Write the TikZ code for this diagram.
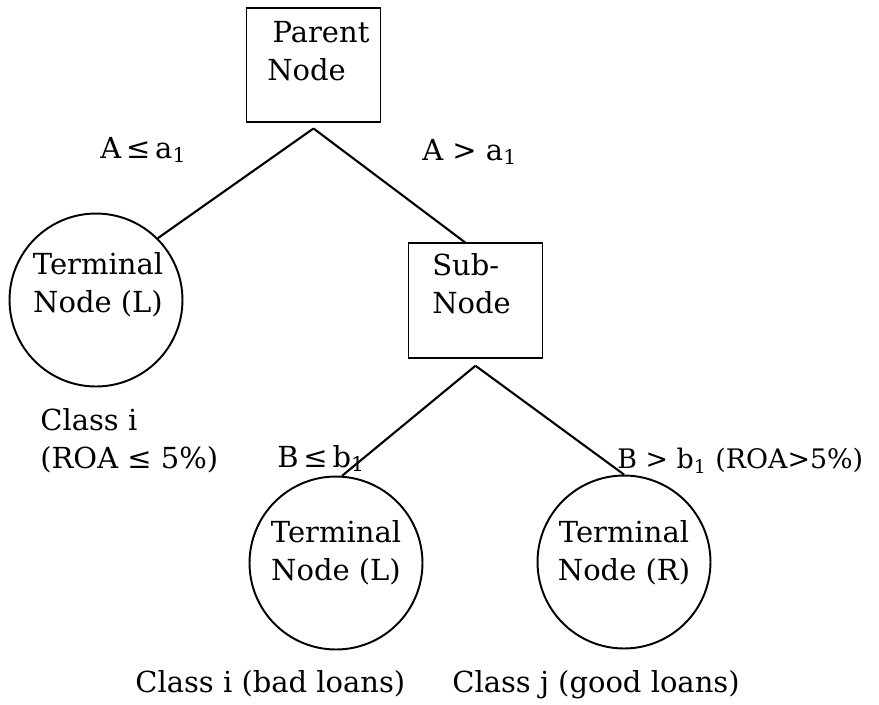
\documentclass[tikz,border=0pt]{standalone}
\usepackage{fontspec}
\setmainfont{DejaVu Serif}
\usepackage{tikz}
\usetikzlibrary{positioning,calc}
\tikzset{
  split/.style={draw=black,line width=1.1pt,minimum width=2.68cm,minimum height=2.29cm,inner sep=0pt},
  leaf/.style={circle,draw=black,line width=1.1pt,minimum size=3.46cm,inner sep=0pt},
  branch/.style={draw=black,line width=1.2pt},
  txt/.style={font=\fontsize{16.5}{21.6}\selectfont,inner sep=0pt},
  boxtext/.style={txt,align=left,anchor=north west},
  leaftext/.style={txt,align=center,anchor=north},
  rulelabel/.style={txt,anchor=base west},
  classlabel/.style={txt,align=left,anchor=north west}
}
\begin{document}
\begin{tikzpicture}[x=0.02cm,y=0.02cm]
\useasboundingbox (0,0) rectangle (879,-704);

\node[split] (P) at (313.5,-65) {};
\node[split] (S) at (475.5,-300.5) {};
\node[leaf] (T1) at (96,-300) {};
\node[leaf] (T2) at (336,-563) {};
\node[leaf] (T3) at (624,-562) {};

\draw[branch]([yshift=-3pt]P.south)--(T1.north east);\draw[branch]([yshift=-3pt]P.south)--([xshift=-6pt]S.north);
\draw[branch]([yshift=-4pt]S.south)--(T2.86);\draw[branch]([yshift=-4pt]S.south)--(T3.north);

\node[boxtext] (Ptext) at (267,-21) {\hspace{3pt}Parent\\Node};
\node[boxtext] (Stext) at (432,-253) {Sub-\\Node};
\node[leaftext] (T1text) at (98,-252) {Terminal\\Node (L)};
\node[leaftext] (T2text) at (336,-520) {Terminal\\Node (L)};
\node[leaftext] (T3text) at (624,-520) {Terminal\\Node (R)};

\node[rulelabel] (A1) at (100,-158) {A\,≤\,a\textsubscript{1}};
\node[rulelabel] (A2) at (422,-160) {A > a\textsubscript{1}};
\node[rulelabel] (B1) at (277,-467) {B\,≤\,b\textsubscript{1}};
\node[rulelabel,font=\fontsize{15.3}{21.6}\selectfont] (B2) at (617,-468) {B > b\textsubscript{1} (ROA>5\%)};

\node[classlabel] (C1) at (40,-408) {Class i\\(ROA ≤ 5\%)};
\node[rulelabel] (C2) at (135,-692) {Class i (bad loans)};
\node[rulelabel] (C3) at (452,-692) {Class j (good loans)};
\end{tikzpicture}
\end{document}
